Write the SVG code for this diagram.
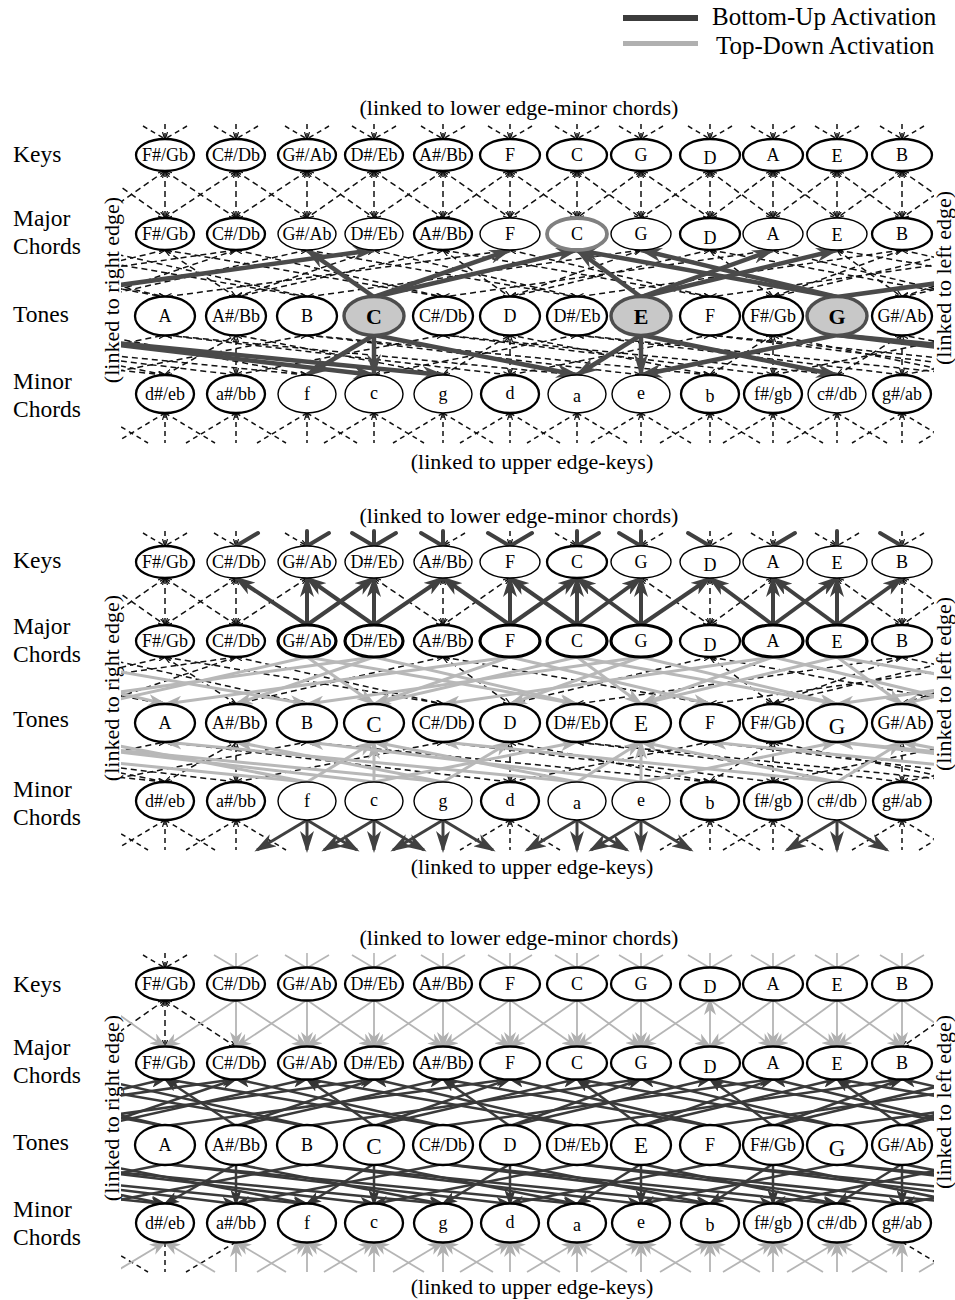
<svg xmlns="http://www.w3.org/2000/svg" width="955" height="1300" viewBox="0 0 955 1300">
<style>
text{font-family:"Liberation Serif","Times New Roman",serif;fill:#000}
.row{font-size:23.5px}
.cap{font-size:22px;text-anchor:middle}
.side{font-size:22px;text-anchor:middle}
.leg{font-size:25px;font-family:"Liberation Serif","Times New Roman",serif}
.n ellipse{fill:#fff;stroke:#000;stroke-width:2.3}
.n text{font-size:18px;text-anchor:middle}
.n.thin ellipse{stroke-width:1.4}
.n.thick ellipse{stroke-width:3.2}
.n.ring ellipse{stroke:#808080;stroke-width:3.8}
.n.hot ellipse{fill:#c8c8c8;stroke:#4d4d4d;stroke-width:3.4}
.n.hot text{font-size:22px;font-weight:bold}
.n.big text{font-size:23px}
line{fill:none}
.d{stroke:#111;stroke-width:1.5;stroke-dasharray:6 4;marker-start:url(#sm);marker-end:url(#sm)}
.de{stroke:#111;stroke-width:1.5;stroke-dasharray:5 4;marker-end:url(#sm)}
.ds{stroke:#111;stroke-width:1.5;stroke-dasharray:5 4;marker-start:url(#sm)}
.nm{marker-start:none;marker-end:none}
.b1{stroke:#4a4a4a;stroke-width:4.5;marker-start:url(#hb)}
.b2s{stroke:#404040;stroke-width:4;marker-start:url(#hb2)}
.b2e{stroke:#404040;stroke-width:3;marker-end:url(#hb2)}
.b2n{stroke:#404040;stroke-width:4;stroke-linecap:round}
.ge{stroke:#b8b8b8;stroke-width:3;marker-end:url(#hg)}
.g3e{stroke:#b5b5b5;stroke-width:1.8;marker-end:url(#hg3)}
.g3s{stroke:#b5b5b5;stroke-width:1.8;marker-start:url(#hg3)}
.g3n{stroke:#b5b5b5;stroke-width:1.6}
.k3{stroke:#3a3a3a;stroke-width:2.5;marker-start:url(#hk)}
</style>
<defs>
<marker id="sm" viewBox="0 0 8 6" refX="7" refY="3" markerWidth="8" markerHeight="6" markerUnits="userSpaceOnUse" orient="auto-start-reverse"><path d="M0,0.5 L8,3 L0,5.5" fill="none" stroke="#111" stroke-width="1.2"/></marker>
<marker id="hb" viewBox="0 0 24 14" refX="21" refY="7" markerWidth="24" markerHeight="14" markerUnits="userSpaceOnUse" orient="auto-start-reverse"><path d="M0,0 L24,7 L0,14 L7,7 z" fill="#4a4a4a"/></marker>
<marker id="hb2" viewBox="0 0 22 14" refX="19" refY="7" markerWidth="22" markerHeight="14" markerUnits="userSpaceOnUse" orient="auto-start-reverse"><path d="M0,0 L22,7 L0,14 L6,7 z" fill="#404040"/></marker>
<marker id="hg" viewBox="0 0 20 12" refX="17" refY="6" markerWidth="20" markerHeight="12" markerUnits="userSpaceOnUse" orient="auto-start-reverse"><path d="M0,0 L20,6 L0,12 L5,6 z" fill="#b0b0b0"/></marker>
<marker id="hg3" viewBox="0 0 18 12" refX="15" refY="6" markerWidth="18" markerHeight="12" markerUnits="userSpaceOnUse" orient="auto-start-reverse"><path d="M0,0 L18,6 L0,12 L5,6 z" fill="#b0b0b0"/></marker>
<marker id="hk" viewBox="0 0 17 11" refX="14" refY="5.5" markerWidth="17" markerHeight="11" markerUnits="userSpaceOnUse" orient="auto-start-reverse"><path d="M0,0 L17,5.5 L0,11 L4,5.5 z" fill="#353535"/></marker>
<clipPath id="clip"><rect x="121" y="0" width="813" height="500"/></clipPath>
<!-- stubs above a key (wrapped links from minor chords) -->
<line id="tsl" x1="-22" y1="-13" x2="0" y2="0"/>
<line id="tsv" x1="0" y1="-15" x2="0" y2="0"/>
<line id="tsr" x1="22" y1="-13" x2="0" y2="0"/>
<g id="ts3"><use href="#tsl"/><use href="#tsv"/><use href="#tsr"/></g>
<g id="ts3m"><use href="#tsl" class="nm"/><use href="#tsv"/><use href="#tsr" class="nm"/></g>
<!-- stubs below a minor chord (wrapped links to keys) -->
<line id="bsl" x1="0" y1="0" x2="-50" y2="30"/>
<line id="bsv" x1="0" y1="0" x2="0" y2="30"/>
<line id="bsr" x1="0" y1="0" x2="50" y2="30"/>
<g id="bs3"><use href="#bsl"/><use href="#bsv"/><use href="#bsr"/></g>
<g id="bs3m"><use href="#bsl" class="nm"/><use href="#bsv"/><use href="#bsr" class="nm"/></g>
</defs>

<g id="legend">
<rect x="623" y="15" width="75" height="6" fill="#3c3c3c"/>
<text class="leg" x="712" y="25">Bottom-Up Activation</text>
<rect x="623" y="41" width="75" height="5" fill="#b0b0b0"/>
<text class="leg" x="716" y="54">Top-Down Activation</text>
</g>

<!-- ===================== panel 1 ===================== -->
<g id="panel1">
<text class="cap" x="519" y="115">(linked to lower edge-minor chords)</text>
<text class="cap" x="532" y="469">(linked to upper edge-keys)</text>
<text class="row" x="13" y="162">Keys</text>
<text class="row" x="13" y="226">Major</text>
<text class="row" x="13" y="254">Chords</text>
<text class="row" x="13" y="322">Tones</text>
<text class="row" x="13" y="389">Minor</text>
<text class="row" x="13" y="417">Chords</text>
<text class="side" transform="translate(119,290) rotate(-90)">(linked to right edge)</text>
<text class="side" transform="translate(951,278) rotate(-90)">(linked to left edge)</text>
<g id="p1-links" clip-path="url(#clip)">
<g class="d">
<line x1="165" y1="171" x2="165" y2="218"/><line x1="236" y1="171" x2="236" y2="218"/><line x1="307" y1="171" x2="307" y2="218"/><line x1="374" y1="171" x2="374" y2="218"/><line x1="443" y1="171" x2="443" y2="218"/><line x1="510" y1="171" x2="510" y2="218"/><line x1="577" y1="171" x2="577" y2="218"/><line x1="641" y1="171" x2="641" y2="218"/><line x1="710" y1="171" x2="710" y2="218"/><line x1="773" y1="171" x2="773" y2="218"/><line x1="837" y1="171" x2="837" y2="218"/><line x1="902" y1="171" x2="902" y2="218"/>
<line x1="98" y1="171" x2="165" y2="218"/><line x1="165" y1="171" x2="236" y2="218"/><line x1="236" y1="171" x2="307" y2="218"/><line x1="307" y1="171" x2="374" y2="218"/><line x1="374" y1="171" x2="443" y2="218"/><line x1="443" y1="171" x2="510" y2="218"/><line x1="510" y1="171" x2="577" y2="218"/><line x1="577" y1="171" x2="641" y2="218"/><line x1="641" y1="171" x2="710" y2="218"/><line x1="710" y1="171" x2="773" y2="218"/><line x1="773" y1="171" x2="837" y2="218"/><line x1="837" y1="171" x2="902" y2="218"/><line x1="902" y1="171" x2="969" y2="218"/>
<line x1="165" y1="171" x2="98" y2="218"/><line x1="236" y1="171" x2="165" y2="218"/><line x1="307" y1="171" x2="236" y2="218"/><line x1="374" y1="171" x2="307" y2="218"/><line x1="443" y1="171" x2="374" y2="218"/><line x1="510" y1="171" x2="443" y2="218"/><line x1="577" y1="171" x2="510" y2="218"/><line x1="641" y1="171" x2="577" y2="218"/><line x1="710" y1="171" x2="641" y2="218"/><line x1="773" y1="171" x2="710" y2="218"/><line x1="837" y1="171" x2="773" y2="218"/><line x1="902" y1="171" x2="837" y2="218"/><line x1="969" y1="171" x2="902" y2="218"/>
<line x1="165" y1="250" x2="-31" y2="297"/><line x1="165" y1="250" x2="236" y2="297"/><line x1="165" y1="250" x2="443" y2="297"/>
<line x1="236" y1="250" x2="443" y2="297"/><line x1="236" y1="250" x2="-94" y2="297"/><line x1="236" y1="250" x2="98" y2="297"/>
<line x1="307" y1="250" x2="98" y2="297"/><line x1="307" y1="250" x2="577" y2="297"/>
<line x1="374" y1="250" x2="577" y2="297"/><line x1="374" y1="250" x2="236" y2="297"/>
<line x1="443" y1="250" x2="236" y2="297"/><line x1="443" y1="250" x2="510" y2="297"/><line x1="443" y1="250" x2="710" y2="297"/>
<line x1="510" y1="250" x2="710" y2="297"/><line x1="510" y1="250" x2="165" y2="297"/>
<line x1="641" y1="250" x2="307" y2="297"/><line x1="641" y1="250" x2="510" y2="297"/>
<line x1="710" y1="250" x2="510" y2="297"/><line x1="710" y1="250" x2="773" y2="297"/><line x1="710" y1="250" x2="969" y2="297"/>
<line x1="773" y1="250" x2="969" y2="297"/><line x1="773" y1="250" x2="443" y2="297"/>
<line x1="837" y1="250" x2="902" y2="297"/><line x1="837" y1="250" x2="1111" y2="297"/>
<line x1="902" y1="250" x2="1111" y2="297"/><line x1="902" y1="250" x2="577" y2="297"/><line x1="902" y1="250" x2="773" y2="297"/>
<line x1="969" y1="250" x2="773" y2="297"/><line x1="1040" y1="250" x2="710" y2="297"/><line x1="1040" y1="250" x2="902" y2="297"/><line x1="1111" y1="250" x2="902" y2="297"/><line x1="-94" y1="250" x2="165" y2="297"/><line x1="-31" y1="250" x2="165" y2="297"/><line x1="33" y1="250" x2="307" y2="297"/><line x1="98" y1="250" x2="307" y2="297"/>
<line x1="165" y1="375" x2="-227" y2="335"/><line x1="165" y1="375" x2="-31" y2="335"/><line x1="165" y1="375" x2="236" y2="335"/>
<line x1="236" y1="375" x2="236" y2="335"/><line x1="236" y1="375" x2="443" y2="335"/><line x1="236" y1="375" x2="-94" y2="335"/>
<line x1="307" y1="375" x2="-94" y2="335"/><line x1="307" y1="375" x2="98" y2="335"/>
<line x1="374" y1="375" x2="577" y2="335"/>
<line x1="443" y1="375" x2="236" y2="335"/><line x1="443" y1="375" x2="510" y2="335"/>
<line x1="510" y1="375" x2="510" y2="335"/><line x1="510" y1="375" x2="710" y2="335"/><line x1="510" y1="375" x2="165" y2="335"/>
<line x1="577" y1="375" x2="165" y2="335"/>
<line x1="641" y1="375" x2="307" y2="335"/>
<line x1="710" y1="375" x2="307" y2="335"/><line x1="710" y1="375" x2="510" y2="335"/><line x1="710" y1="375" x2="773" y2="335"/>
<line x1="773" y1="375" x2="773" y2="335"/><line x1="773" y1="375" x2="969" y2="335"/><line x1="773" y1="375" x2="443" y2="335"/>
<line x1="837" y1="375" x2="443" y2="335"/><line x1="837" y1="375" x2="902" y2="335"/>
<line x1="902" y1="375" x2="902" y2="335"/><line x1="902" y1="375" x2="1111" y2="335"/><line x1="902" y1="375" x2="577" y2="335"/>
<line x1="969" y1="375" x2="577" y2="335"/><line x1="969" y1="375" x2="773" y2="335"/><line x1="1040" y1="375" x2="710" y2="335"/><line x1="1111" y1="375" x2="710" y2="335"/><line x1="1111" y1="375" x2="902" y2="335"/><line x1="-31" y1="375" x2="165" y2="335"/><line x1="98" y1="375" x2="307" y2="335"/>
</g>
<g class="de">
<use href="#ts3m" x="165" y="139"/><use href="#ts3m" x="236" y="139"/><use href="#ts3m" x="307" y="139"/><use href="#ts3m" x="374" y="139"/><use href="#ts3m" x="443" y="139"/><use href="#ts3m" x="510" y="139"/><use href="#ts3m" x="577" y="139"/><use href="#ts3m" x="641" y="139"/><use href="#ts3m" x="710" y="139"/><use href="#ts3m" x="773" y="139"/><use href="#ts3m" x="837" y="139"/><use href="#ts3m" x="902" y="139"/>
</g>
<g class="ds">
<use href="#bsr" x="98" y="413" class="nm"/><use href="#bs3m" x="165" y="413"/><use href="#bs3m" x="236" y="413"/><use href="#bs3m" x="307" y="413"/><use href="#bs3m" x="374" y="413"/><use href="#bs3m" x="443" y="413"/><use href="#bs3m" x="510" y="413"/><use href="#bs3m" x="577" y="413"/><use href="#bs3m" x="641" y="413"/><use href="#bs3m" x="710" y="413"/><use href="#bs3m" x="773" y="413"/><use href="#bs3m" x="837" y="413"/><use href="#bs3m" x="902" y="413"/><use href="#bsl" x="969" y="413" class="nm"/>
</g>
<g class="b1">
<line x1="307" y1="250" x2="374" y2="297"/><line x1="510" y1="250" x2="374" y2="297"/><line x1="577" y1="250" x2="374" y2="297"/><line x1="577" y1="250" x2="641" y2="297"/><line x1="577" y1="250" x2="837" y2="297"/><line x1="374" y1="250" x2="33" y2="297"/><line x1="1178" y1="250" x2="837" y2="297"/><line x1="641" y1="250" x2="837" y2="297"/><line x1="773" y1="250" x2="641" y2="297"/><line x1="837" y1="250" x2="641" y2="297"/>
<line x1="307" y1="375" x2="374" y2="335"/><line x1="374" y1="375" x2="374" y2="335"/><line x1="374" y1="375" x2="33" y2="335"/><line x1="1178" y1="375" x2="837" y2="335"/><line x1="443" y1="375" x2="33" y2="335"/><line x1="1247" y1="375" x2="837" y2="335"/><line x1="577" y1="375" x2="374" y2="335"/><line x1="577" y1="375" x2="641" y2="335"/><line x1="641" y1="375" x2="641" y2="335"/><line x1="641" y1="375" x2="837" y2="335"/><line x1="837" y1="375" x2="641" y2="335"/>
</g>
</g>
<g id="p1-key-FsGb" class="n"><ellipse cx="165" cy="155" rx="29" ry="16"/><text x="165" y="161">F#/Gb</text></g>
<g id="p1-key-CsDb" class="n"><ellipse cx="236" cy="155" rx="29" ry="16"/><text x="236" y="161">C#/Db</text></g>
<g id="p1-key-GsAb" class="n"><ellipse cx="307" cy="155" rx="29" ry="16"/><text x="307" y="161">G#/Ab</text></g>
<g id="p1-key-DsEb" class="n"><ellipse cx="374" cy="155" rx="29" ry="16"/><text x="374" y="161">D#/Eb</text></g>
<g id="p1-key-AsBb" class="n"><ellipse cx="443" cy="155" rx="29" ry="16"/><text x="443" y="161">A#/Bb</text></g>
<g id="p1-key-F" class="n"><ellipse cx="510" cy="155" rx="30" ry="16"/><text x="510" y="161">F</text></g>
<g id="p1-key-C" class="n"><ellipse cx="577" cy="155" rx="30" ry="16"/><text x="577" y="161">C</text></g>
<g id="p1-key-G" class="n"><ellipse cx="641" cy="155" rx="30" ry="16"/><text x="641" y="161">G</text></g>
<g id="p1-key-D" class="n"><ellipse cx="710" cy="155" rx="30" ry="16"/><text x="710" y="164">D</text></g>
<g id="p1-key-A" class="n"><ellipse cx="773" cy="155" rx="30" ry="16"/><text x="773" y="161">A</text></g>
<g id="p1-key-E" class="n"><ellipse cx="837" cy="155" rx="30" ry="16"/><text x="837" y="162">E</text></g>
<g id="p1-key-B" class="n"><ellipse cx="902" cy="155" rx="30" ry="16"/><text x="902" y="161">B</text></g>
<g id="p1-maj-FsGb" class="n"><ellipse cx="165" cy="234" rx="29" ry="16"/><text x="165" y="240">F#/Gb</text></g>
<g id="p1-maj-CsDb" class="n"><ellipse cx="236" cy="234" rx="29" ry="16"/><text x="236" y="240">C#/Db</text></g>
<g id="p1-maj-GsAb" class="n thin"><ellipse cx="307" cy="234" rx="29" ry="16"/><text x="307" y="240">G#/Ab</text></g>
<g id="p1-maj-DsEb" class="n thin"><ellipse cx="374" cy="234" rx="29" ry="16"/><text x="374" y="240">D#/Eb</text></g>
<g id="p1-maj-AsBb" class="n"><ellipse cx="443" cy="234" rx="29" ry="16"/><text x="443" y="240">A#/Bb</text></g>
<g id="p1-maj-F" class="n thin"><ellipse cx="510" cy="234" rx="30" ry="16"/><text x="510" y="240">F</text></g>
<g id="p1-maj-C" class="n ring"><ellipse cx="577" cy="234" rx="30" ry="16"/><text x="577" y="240">C</text></g>
<g id="p1-maj-G" class="n thin"><ellipse cx="641" cy="234" rx="30" ry="16"/><text x="641" y="240">G</text></g>
<g id="p1-maj-D" class="n"><ellipse cx="710" cy="234" rx="30" ry="16"/><text x="710" y="244">D</text></g>
<g id="p1-maj-A" class="n thin"><ellipse cx="773" cy="234" rx="30" ry="16"/><text x="773" y="240">A</text></g>
<g id="p1-maj-E" class="n thin"><ellipse cx="837" cy="234" rx="30" ry="16"/><text x="837" y="241">E</text></g>
<g id="p1-maj-B" class="n"><ellipse cx="902" cy="234" rx="30" ry="16"/><text x="902" y="240">B</text></g>
<g id="p1-tone-A" class="n"><ellipse cx="165" cy="316" rx="30" ry="19.5"/><text x="165" y="322">A</text></g>
<g id="p1-tone-AsBb" class="n"><ellipse cx="236" cy="316" rx="30" ry="19.5"/><text x="236" y="322">A#/Bb</text></g>
<g id="p1-tone-B" class="n"><ellipse cx="307" cy="316" rx="30" ry="19.5"/><text x="307" y="322">B</text></g>
<g id="p1-tone-C" class="n hot"><ellipse cx="374" cy="316" rx="30" ry="19.5"/><text x="374" y="324">C</text></g>
<g id="p1-tone-CsDb" class="n"><ellipse cx="443" cy="316" rx="30" ry="19.5"/><text x="443" y="322">C#/Db</text></g>
<g id="p1-tone-D" class="n"><ellipse cx="510" cy="316" rx="30" ry="19.5"/><text x="510" y="322">D</text></g>
<g id="p1-tone-DsEb" class="n"><ellipse cx="577" cy="316" rx="30" ry="19.5"/><text x="577" y="322">D#/Eb</text></g>
<g id="p1-tone-E" class="n hot"><ellipse cx="641" cy="316" rx="30" ry="19.5"/><text x="641" y="324">E</text></g>
<g id="p1-tone-F" class="n"><ellipse cx="710" cy="316" rx="30" ry="19.5"/><text x="710" y="322">F</text></g>
<g id="p1-tone-FsGb" class="n"><ellipse cx="773" cy="316" rx="30" ry="19.5"/><text x="773" y="322">F#/Gb</text></g>
<g id="p1-tone-G" class="n hot"><ellipse cx="837" cy="316" rx="30" ry="19.5"/><text x="837" y="324">G</text></g>
<g id="p1-tone-GsAb" class="n"><ellipse cx="902" cy="316" rx="30" ry="19.5"/><text x="902" y="322">G#/Ab</text></g>
<g id="p1-min-dseb" class="n"><ellipse cx="165" cy="394" rx="29" ry="19"/><text x="165" y="400">d#/eb</text></g>
<g id="p1-min-asbb" class="n"><ellipse cx="236" cy="394" rx="29" ry="19"/><text x="236" y="400">a#/bb</text></g>
<g id="p1-min-f" class="n thin"><ellipse cx="307" cy="394" rx="29" ry="19"/><text x="307" y="400">f</text></g>
<g id="p1-min-c" class="n thin"><ellipse cx="374" cy="394" rx="29" ry="19"/><text x="374" y="399">c</text></g>
<g id="p1-min-g" class="n thin"><ellipse cx="443" cy="394" rx="29" ry="19"/><text x="443" y="400">g</text></g>
<g id="p1-min-d" class="n"><ellipse cx="510" cy="394" rx="29" ry="19"/><text x="510" y="399">d</text></g>
<g id="p1-min-a" class="n thin"><ellipse cx="577" cy="394" rx="29" ry="19"/><text x="577" y="402">a</text></g>
<g id="p1-min-e" class="n thin"><ellipse cx="641" cy="394" rx="29" ry="19"/><text x="641" y="399">e</text></g>
<g id="p1-min-b" class="n"><ellipse cx="710" cy="394" rx="29" ry="19"/><text x="710" y="402">b</text></g>
<g id="p1-min-fsgb" class="n"><ellipse cx="773" cy="394" rx="29" ry="19"/><text x="773" y="400">f#/gb</text></g>
<g id="p1-min-csdb" class="n thin"><ellipse cx="837" cy="394" rx="29" ry="19"/><text x="837" y="400">c#/db</text></g>
<g id="p1-min-gsab" class="n"><ellipse cx="902" cy="394" rx="29" ry="19"/><text x="902" y="400">g#/ab</text></g>
</g>

<!-- ===================== panel 2 ===================== -->
<g id="panel2" transform="translate(0,407)">
<text class="cap" x="519" y="116">(linked to lower edge-minor chords)</text>
<text class="cap" x="532" y="467">(linked to upper edge-keys)</text>
<text class="row" x="13" y="161">Keys</text>
<text class="row" x="13" y="227">Major</text>
<text class="row" x="13" y="255">Chords</text>
<text class="row" x="13" y="320">Tones</text>
<text class="row" x="13" y="390">Minor</text>
<text class="row" x="13" y="418">Chords</text>
<text class="side" transform="translate(119,281) rotate(-90)">(linked to right edge)</text>
<text class="side" transform="translate(951,277) rotate(-90)">(linked to left edge)</text>
<g id="p2-links" clip-path="url(#clip)">
<g class="d">
<line x1="165" y1="171" x2="165" y2="218"/><line x1="236" y1="171" x2="236" y2="218"/><line x1="443" y1="171" x2="443" y2="218"/><line x1="710" y1="171" x2="710" y2="218"/><line x1="902" y1="171" x2="902" y2="218"/>
<line x1="98" y1="171" x2="165" y2="218"/><line x1="165" y1="171" x2="236" y2="218"/><line x1="374" y1="171" x2="443" y2="218"/><line x1="641" y1="171" x2="710" y2="218"/><line x1="837" y1="171" x2="902" y2="218"/><line x1="902" y1="171" x2="969" y2="218"/>
<line x1="165" y1="171" x2="98" y2="218"/><line x1="236" y1="171" x2="165" y2="218"/><line x1="307" y1="171" x2="236" y2="218"/><line x1="510" y1="171" x2="443" y2="218"/><line x1="773" y1="171" x2="710" y2="218"/><line x1="969" y1="171" x2="902" y2="218"/>
<line x1="165" y1="250" x2="-31" y2="297"/><line x1="165" y1="250" x2="236" y2="297"/><line x1="165" y1="250" x2="443" y2="297"/>
<line x1="236" y1="250" x2="443" y2="297"/><line x1="236" y1="250" x2="-94" y2="297"/><line x1="236" y1="250" x2="98" y2="297"/>
<line x1="443" y1="250" x2="236" y2="297"/><line x1="443" y1="250" x2="510" y2="297"/><line x1="443" y1="250" x2="710" y2="297"/>
<line x1="710" y1="250" x2="510" y2="297"/><line x1="710" y1="250" x2="773" y2="297"/><line x1="710" y1="250" x2="969" y2="297"/>
<line x1="902" y1="250" x2="1111" y2="297"/><line x1="902" y1="250" x2="577" y2="297"/><line x1="902" y1="250" x2="773" y2="297"/>
<line x1="969" y1="250" x2="773" y2="297"/><line x1="1040" y1="250" x2="710" y2="297"/><line x1="1040" y1="250" x2="902" y2="297"/><line x1="-94" y1="250" x2="165" y2="297"/><line x1="98" y1="250" x2="307" y2="297"/>
<line x1="165" y1="375" x2="-227" y2="335"/><line x1="165" y1="375" x2="-31" y2="335"/><line x1="165" y1="375" x2="236" y2="335"/>
<line x1="236" y1="375" x2="236" y2="335"/><line x1="236" y1="375" x2="443" y2="335"/><line x1="236" y1="375" x2="-94" y2="335"/>
<line x1="510" y1="375" x2="510" y2="335"/><line x1="510" y1="375" x2="710" y2="335"/><line x1="510" y1="375" x2="165" y2="335"/>
<line x1="710" y1="375" x2="307" y2="335"/><line x1="710" y1="375" x2="510" y2="335"/><line x1="710" y1="375" x2="773" y2="335"/>
<line x1="773" y1="375" x2="773" y2="335"/><line x1="773" y1="375" x2="969" y2="335"/><line x1="773" y1="375" x2="443" y2="335"/>
<line x1="902" y1="375" x2="902" y2="335"/><line x1="902" y1="375" x2="1111" y2="335"/><line x1="902" y1="375" x2="577" y2="335"/>
<line x1="969" y1="375" x2="577" y2="335"/><line x1="969" y1="375" x2="773" y2="335"/><line x1="1040" y1="375" x2="710" y2="335"/><line x1="-31" y1="375" x2="165" y2="335"/><line x1="98" y1="375" x2="307" y2="335"/>
</g>
<g class="ge">
<line x1="307" y1="250" x2="98" y2="297"/><line x1="307" y1="250" x2="374" y2="297"/><line x1="307" y1="250" x2="577" y2="297"/>
<line x1="374" y1="250" x2="577" y2="297"/><line x1="374" y1="250" x2="33" y2="297"/><line x1="374" y1="250" x2="236" y2="297"/>
<line x1="510" y1="250" x2="710" y2="297"/><line x1="510" y1="250" x2="165" y2="297"/><line x1="510" y1="250" x2="374" y2="297"/>
<line x1="577" y1="250" x2="374" y2="297"/><line x1="577" y1="250" x2="641" y2="297"/><line x1="577" y1="250" x2="837" y2="297"/>
<line x1="641" y1="250" x2="837" y2="297"/><line x1="641" y1="250" x2="307" y2="297"/><line x1="641" y1="250" x2="510" y2="297"/>
<line x1="773" y1="250" x2="969" y2="297"/><line x1="773" y1="250" x2="443" y2="297"/><line x1="773" y1="250" x2="641" y2="297"/>
<line x1="837" y1="250" x2="641" y2="297"/><line x1="837" y1="250" x2="902" y2="297"/><line x1="837" y1="250" x2="1111" y2="297"/>
<line x1="1111" y1="250" x2="902" y2="297"/><line x1="1178" y1="250" x2="837" y2="297"/><line x1="-31" y1="250" x2="165" y2="297"/><line x1="33" y1="250" x2="307" y2="297"/>
<line x1="307" y1="375" x2="-94" y2="335"/><line x1="307" y1="375" x2="98" y2="335"/><line x1="307" y1="375" x2="374" y2="335"/>
<line x1="374" y1="375" x2="374" y2="335"/><line x1="374" y1="375" x2="577" y2="335"/><line x1="374" y1="375" x2="33" y2="335"/>
<line x1="443" y1="375" x2="33" y2="335"/><line x1="443" y1="375" x2="236" y2="335"/><line x1="443" y1="375" x2="510" y2="335"/>
<line x1="577" y1="375" x2="165" y2="335"/><line x1="577" y1="375" x2="374" y2="335"/><line x1="577" y1="375" x2="641" y2="335"/>
<line x1="641" y1="375" x2="641" y2="335"/><line x1="641" y1="375" x2="837" y2="335"/><line x1="641" y1="375" x2="307" y2="335"/>
<line x1="837" y1="375" x2="443" y2="335"/><line x1="837" y1="375" x2="641" y2="335"/><line x1="837" y1="375" x2="902" y2="335"/>
<line x1="1111" y1="375" x2="710" y2="335"/><line x1="1111" y1="375" x2="902" y2="335"/><line x1="1178" y1="375" x2="837" y2="335"/><line x1="1247" y1="375" x2="837" y2="335"/>
</g>
<g class="b2s">
<line x1="307" y1="171" x2="307" y2="218"/><line x1="374" y1="171" x2="374" y2="218"/><line x1="510" y1="171" x2="510" y2="218"/><line x1="577" y1="171" x2="577" y2="218"/><line x1="641" y1="171" x2="641" y2="218"/><line x1="773" y1="171" x2="773" y2="218"/><line x1="837" y1="171" x2="837" y2="218"/>
<line x1="236" y1="171" x2="307" y2="218"/><line x1="307" y1="171" x2="374" y2="218"/><line x1="443" y1="171" x2="510" y2="218"/><line x1="510" y1="171" x2="577" y2="218"/><line x1="577" y1="171" x2="641" y2="218"/><line x1="710" y1="171" x2="773" y2="218"/><line x1="773" y1="171" x2="837" y2="218"/>
<line x1="374" y1="171" x2="307" y2="218"/><line x1="443" y1="171" x2="374" y2="218"/><line x1="577" y1="171" x2="510" y2="218"/><line x1="641" y1="171" x2="577" y2="218"/><line x1="710" y1="171" x2="641" y2="218"/><line x1="837" y1="171" x2="773" y2="218"/><line x1="902" y1="171" x2="837" y2="218"/>
</g>
<g class="de">
<use href="#ts3m" x="165" y="139"/>
<use href="#tsl" x="236" y="139" class="nm"/><use href="#tsv" x="236" y="139"/>
<use href="#tsl" x="307" y="139"/>
<use href="#tsr" x="443" y="139"/>
<use href="#tsv" x="510" y="139"/>
<use href="#tsl" x="577" y="139"/>
<use href="#tsr" x="641" y="139"/>
<use href="#tsv" x="710" y="139"/><use href="#tsr" x="710" y="139" class="nm"/>
<use href="#tsl" x="773" y="139" class="nm"/><use href="#tsv" x="773" y="139"/>
<use href="#tsl" x="837" y="139"/><use href="#tsr" x="837" y="139" class="nm"/>
<use href="#tsv" x="902" y="139"/><use href="#tsr" x="902" y="139" class="nm"/>
</g>
<g class="b2n">
<use href="#tsr" x="236" y="139"/>
<use href="#tsv" x="307" y="139"/><use href="#tsr" x="307" y="139"/>
<use href="#ts3" x="374" y="139"/>
<use href="#tsl" x="443" y="139"/><use href="#tsv" x="443" y="139"/>
<use href="#tsl" x="510" y="139"/><use href="#tsr" x="510" y="139"/>
<use href="#tsv" x="577" y="139"/><use href="#tsr" x="577" y="139"/>
<use href="#tsl" x="641" y="139"/><use href="#tsv" x="641" y="139"/>
<use href="#tsl" x="710" y="139"/>
<use href="#tsr" x="773" y="139"/>
<use href="#tsv" x="837" y="139"/>
<use href="#tsl" x="902" y="139"/>
</g>
<g class="ds">
<use href="#bsr" x="98" y="413" class="nm"/><use href="#bs3m" x="165" y="413"/><use href="#bs3m" x="236" y="413"/><use href="#bs3m" x="510" y="413"/><use href="#bs3m" x="710" y="413"/><use href="#bs3m" x="773" y="413"/><use href="#bs3m" x="902" y="413"/><use href="#bsl" x="969" y="413" class="nm"/>
</g>
<g class="b2e">
<use href="#bs3" x="307" y="413"/><use href="#bs3" x="374" y="413"/><use href="#bs3" x="443" y="413"/><use href="#bs3" x="577" y="413"/><use href="#bs3" x="641" y="413"/><use href="#bs3" x="837" y="413"/>
</g>
</g>
<g id="p2-key-FsGb" class="n"><ellipse cx="165" cy="155" rx="29" ry="16"/><text x="165" y="161">F#/Gb</text></g>
<g id="p2-key-CsDb" class="n thin"><ellipse cx="236" cy="155" rx="29" ry="16"/><text x="236" y="161">C#/Db</text></g>
<g id="p2-key-GsAb" class="n thin"><ellipse cx="307" cy="155" rx="29" ry="16"/><text x="307" y="161">G#/Ab</text></g>
<g id="p2-key-DsEb" class="n thin"><ellipse cx="374" cy="155" rx="29" ry="16"/><text x="374" y="161">D#/Eb</text></g>
<g id="p2-key-AsBb" class="n thin"><ellipse cx="443" cy="155" rx="29" ry="16"/><text x="443" y="161">A#/Bb</text></g>
<g id="p2-key-F" class="n thin"><ellipse cx="510" cy="155" rx="30" ry="16"/><text x="510" y="161">F</text></g>
<g id="p2-key-C" class="n"><ellipse cx="577" cy="155" rx="30" ry="16"/><text x="577" y="161">C</text></g>
<g id="p2-key-G" class="n thin"><ellipse cx="641" cy="155" rx="30" ry="16"/><text x="641" y="161">G</text></g>
<g id="p2-key-D" class="n thin"><ellipse cx="710" cy="155" rx="30" ry="16"/><text x="710" y="164">D</text></g>
<g id="p2-key-A" class="n thin"><ellipse cx="773" cy="155" rx="30" ry="16"/><text x="773" y="161">A</text></g>
<g id="p2-key-E" class="n thin"><ellipse cx="837" cy="155" rx="30" ry="16"/><text x="837" y="162">E</text></g>
<g id="p2-key-B" class="n thin"><ellipse cx="902" cy="155" rx="30" ry="16"/><text x="902" y="161">B</text></g>
<g id="p2-maj-FsGb" class="n"><ellipse cx="165" cy="234" rx="29" ry="16"/><text x="165" y="240">F#/Gb</text></g>
<g id="p2-maj-CsDb" class="n"><ellipse cx="236" cy="234" rx="29" ry="16"/><text x="236" y="240">C#/Db</text></g>
<g id="p2-maj-GsAb" class="n thick"><ellipse cx="307" cy="234" rx="29" ry="16"/><text x="307" y="240">G#/Ab</text></g>
<g id="p2-maj-DsEb" class="n thick"><ellipse cx="374" cy="234" rx="29" ry="16"/><text x="374" y="240">D#/Eb</text></g>
<g id="p2-maj-AsBb" class="n"><ellipse cx="443" cy="234" rx="29" ry="16"/><text x="443" y="240">A#/Bb</text></g>
<g id="p2-maj-F" class="n thick"><ellipse cx="510" cy="234" rx="30" ry="16"/><text x="510" y="240">F</text></g>
<g id="p2-maj-C" class="n thick"><ellipse cx="577" cy="234" rx="30" ry="16"/><text x="577" y="240">C</text></g>
<g id="p2-maj-G" class="n thick"><ellipse cx="641" cy="234" rx="30" ry="16"/><text x="641" y="240">G</text></g>
<g id="p2-maj-D" class="n"><ellipse cx="710" cy="234" rx="30" ry="16"/><text x="710" y="244">D</text></g>
<g id="p2-maj-A" class="n thick"><ellipse cx="773" cy="234" rx="30" ry="16"/><text x="773" y="240">A</text></g>
<g id="p2-maj-E" class="n thick"><ellipse cx="837" cy="234" rx="30" ry="16"/><text x="837" y="241">E</text></g>
<g id="p2-maj-B" class="n"><ellipse cx="902" cy="234" rx="30" ry="16"/><text x="902" y="240">B</text></g>
<g id="p2-tone-A" class="n"><ellipse cx="165" cy="316" rx="30" ry="19"/><text x="165" y="322">A</text></g>
<g id="p2-tone-AsBb" class="n"><ellipse cx="236" cy="316" rx="30" ry="19"/><text x="236" y="322">A#/Bb</text></g>
<g id="p2-tone-B" class="n"><ellipse cx="307" cy="316" rx="30" ry="19"/><text x="307" y="322">B</text></g>
<g id="p2-tone-C" class="n big"><ellipse cx="374" cy="316" rx="30" ry="19"/><text x="374" y="325">C</text></g>
<g id="p2-tone-CsDb" class="n"><ellipse cx="443" cy="316" rx="30" ry="19"/><text x="443" y="322">C#/Db</text></g>
<g id="p2-tone-D" class="n"><ellipse cx="510" cy="316" rx="30" ry="19"/><text x="510" y="322">D</text></g>
<g id="p2-tone-DsEb" class="n"><ellipse cx="577" cy="316" rx="30" ry="19"/><text x="577" y="322">D#/Eb</text></g>
<g id="p2-tone-E" class="n big"><ellipse cx="641" cy="316" rx="30" ry="19"/><text x="641" y="324">E</text></g>
<g id="p2-tone-F" class="n"><ellipse cx="710" cy="316" rx="30" ry="19"/><text x="710" y="322">F</text></g>
<g id="p2-tone-FsGb" class="n"><ellipse cx="773" cy="316" rx="30" ry="19"/><text x="773" y="322">F#/Gb</text></g>
<g id="p2-tone-G" class="n big"><ellipse cx="837" cy="316" rx="30" ry="19"/><text x="837" y="327">G</text></g>
<g id="p2-tone-GsAb" class="n"><ellipse cx="902" cy="316" rx="30" ry="19"/><text x="902" y="322">G#/Ab</text></g>
<g id="p2-min-dseb" class="n"><ellipse cx="165" cy="394" rx="29" ry="19"/><text x="165" y="400">d#/eb</text></g>
<g id="p2-min-asbb" class="n"><ellipse cx="236" cy="394" rx="29" ry="19"/><text x="236" y="400">a#/bb</text></g>
<g id="p2-min-f" class="n thin"><ellipse cx="307" cy="394" rx="29" ry="19"/><text x="307" y="400">f</text></g>
<g id="p2-min-c" class="n thin"><ellipse cx="374" cy="394" rx="29" ry="19"/><text x="374" y="399">c</text></g>
<g id="p2-min-g" class="n thin"><ellipse cx="443" cy="394" rx="29" ry="19"/><text x="443" y="400">g</text></g>
<g id="p2-min-d" class="n"><ellipse cx="510" cy="394" rx="29" ry="19"/><text x="510" y="399">d</text></g>
<g id="p2-min-a" class="n thin"><ellipse cx="577" cy="394" rx="29" ry="19"/><text x="577" y="402">a</text></g>
<g id="p2-min-e" class="n thin"><ellipse cx="641" cy="394" rx="29" ry="19"/><text x="641" y="399">e</text></g>
<g id="p2-min-b" class="n"><ellipse cx="710" cy="394" rx="29" ry="19"/><text x="710" y="402">b</text></g>
<g id="p2-min-fsgb" class="n"><ellipse cx="773" cy="394" rx="29" ry="19"/><text x="773" y="400">f#/gb</text></g>
<g id="p2-min-csdb" class="n thin"><ellipse cx="837" cy="394" rx="29" ry="19"/><text x="837" y="400">c#/db</text></g>
<g id="p2-min-gsab" class="n"><ellipse cx="902" cy="394" rx="29" ry="19"/><text x="902" y="400">g#/ab</text></g>
</g>

<!-- ===================== panel 3 ===================== -->
<g id="panel3" transform="translate(0,829)">
<text class="cap" x="519" y="116">(linked to lower edge-minor chords)</text>
<text class="cap" x="532" y="465">(linked to upper edge-keys)</text>
<text class="row" x="13" y="163">Keys</text>
<text class="row" x="13" y="226">Major</text>
<text class="row" x="13" y="254">Chords</text>
<text class="row" x="13" y="321">Tones</text>
<text class="row" x="13" y="388">Minor</text>
<text class="row" x="13" y="416">Chords</text>
<text class="side" transform="translate(119,279) rotate(-90)">(linked to right edge)</text>
<text class="side" transform="translate(951,273) rotate(-90)">(linked to left edge)</text>
<g id="p3-links" clip-path="url(#clip)">
<g class="d">
<line x1="165" y1="171" x2="165" y2="218"/><line x1="165" y1="171" x2="236" y2="218"/><line x1="165" y1="171" x2="98" y2="218"/><line x1="969" y1="171" x2="902" y2="218"/>
</g>
<g class="g3e">
<line x1="236" y1="171" x2="236" y2="218"/><line x1="307" y1="171" x2="307" y2="218"/><line x1="374" y1="171" x2="374" y2="218"/><line x1="443" y1="171" x2="443" y2="218"/><line x1="510" y1="171" x2="510" y2="218"/><line x1="577" y1="171" x2="577" y2="218"/><line x1="641" y1="171" x2="641" y2="218"/><line x1="773" y1="171" x2="773" y2="218"/><line x1="837" y1="171" x2="837" y2="218"/><line x1="902" y1="171" x2="902" y2="218"/>
<line x1="98" y1="171" x2="165" y2="218"/><line x1="236" y1="171" x2="307" y2="218"/><line x1="307" y1="171" x2="374" y2="218"/><line x1="374" y1="171" x2="443" y2="218"/><line x1="443" y1="171" x2="510" y2="218"/><line x1="510" y1="171" x2="577" y2="218"/><line x1="577" y1="171" x2="641" y2="218"/><line x1="641" y1="171" x2="710" y2="218"/><line x1="710" y1="171" x2="773" y2="218"/><line x1="773" y1="171" x2="837" y2="218"/><line x1="837" y1="171" x2="902" y2="218"/><line x1="902" y1="171" x2="969" y2="218"/>
<line x1="236" y1="171" x2="165" y2="218"/><line x1="307" y1="171" x2="236" y2="218"/><line x1="374" y1="171" x2="307" y2="218"/><line x1="443" y1="171" x2="374" y2="218"/><line x1="510" y1="171" x2="443" y2="218"/><line x1="577" y1="171" x2="510" y2="218"/><line x1="641" y1="171" x2="577" y2="218"/><line x1="710" y1="171" x2="641" y2="218"/><line x1="773" y1="171" x2="710" y2="218"/><line x1="837" y1="171" x2="773" y2="218"/><line x1="902" y1="171" x2="837" y2="218"/>
</g>
<g class="g3s"><line x1="710" y1="171" x2="710" y2="218"/></g>
<g class="k3">
<line x1="165" y1="250" x2="-31" y2="297"/><line x1="165" y1="250" x2="236" y2="297"/><line x1="165" y1="250" x2="443" y2="297"/>
<line x1="236" y1="250" x2="443" y2="297"/><line x1="236" y1="250" x2="-94" y2="297"/><line x1="236" y1="250" x2="98" y2="297"/>
<line x1="307" y1="250" x2="98" y2="297"/><line x1="307" y1="250" x2="374" y2="297"/><line x1="307" y1="250" x2="577" y2="297"/>
<line x1="374" y1="250" x2="577" y2="297"/><line x1="374" y1="250" x2="33" y2="297"/><line x1="374" y1="250" x2="236" y2="297"/>
<line x1="443" y1="250" x2="236" y2="297"/><line x1="443" y1="250" x2="510" y2="297"/><line x1="443" y1="250" x2="710" y2="297"/>
<line x1="510" y1="250" x2="710" y2="297"/><line x1="510" y1="250" x2="165" y2="297"/><line x1="510" y1="250" x2="374" y2="297"/>
<line x1="577" y1="250" x2="374" y2="297"/><line x1="577" y1="250" x2="641" y2="297"/><line x1="577" y1="250" x2="837" y2="297"/>
<line x1="641" y1="250" x2="837" y2="297"/><line x1="641" y1="250" x2="307" y2="297"/><line x1="641" y1="250" x2="510" y2="297"/>
<line x1="710" y1="250" x2="510" y2="297"/><line x1="710" y1="250" x2="773" y2="297"/><line x1="710" y1="250" x2="969" y2="297"/>
<line x1="773" y1="250" x2="969" y2="297"/><line x1="773" y1="250" x2="443" y2="297"/><line x1="773" y1="250" x2="641" y2="297"/>
<line x1="837" y1="250" x2="641" y2="297"/><line x1="837" y1="250" x2="902" y2="297"/><line x1="837" y1="250" x2="1111" y2="297"/>
<line x1="902" y1="250" x2="1111" y2="297"/><line x1="902" y1="250" x2="577" y2="297"/><line x1="902" y1="250" x2="773" y2="297"/>
<line x1="969" y1="250" x2="773" y2="297"/><line x1="1040" y1="250" x2="710" y2="297"/><line x1="1040" y1="250" x2="902" y2="297"/><line x1="1111" y1="250" x2="902" y2="297"/><line x1="1178" y1="250" x2="837" y2="297"/><line x1="-94" y1="250" x2="165" y2="297"/><line x1="-31" y1="250" x2="165" y2="297"/><line x1="33" y1="250" x2="307" y2="297"/><line x1="98" y1="250" x2="307" y2="297"/>
<line x1="165" y1="375" x2="-227" y2="335"/><line x1="165" y1="375" x2="-31" y2="335"/><line x1="165" y1="375" x2="236" y2="335"/>
<line x1="236" y1="375" x2="236" y2="335"/><line x1="236" y1="375" x2="443" y2="335"/><line x1="236" y1="375" x2="-94" y2="335"/>
<line x1="307" y1="375" x2="-94" y2="335"/><line x1="307" y1="375" x2="98" y2="335"/><line x1="307" y1="375" x2="374" y2="335"/>
<line x1="374" y1="375" x2="374" y2="335"/><line x1="374" y1="375" x2="577" y2="335"/><line x1="374" y1="375" x2="33" y2="335"/>
<line x1="443" y1="375" x2="33" y2="335"/><line x1="443" y1="375" x2="236" y2="335"/><line x1="443" y1="375" x2="510" y2="335"/>
<line x1="510" y1="375" x2="510" y2="335"/><line x1="510" y1="375" x2="710" y2="335"/><line x1="510" y1="375" x2="165" y2="335"/>
<line x1="577" y1="375" x2="165" y2="335"/><line x1="577" y1="375" x2="374" y2="335"/><line x1="577" y1="375" x2="641" y2="335"/>
<line x1="641" y1="375" x2="641" y2="335"/><line x1="641" y1="375" x2="837" y2="335"/><line x1="641" y1="375" x2="307" y2="335"/>
<line x1="710" y1="375" x2="307" y2="335"/><line x1="710" y1="375" x2="510" y2="335"/><line x1="710" y1="375" x2="773" y2="335"/>
<line x1="773" y1="375" x2="773" y2="335"/><line x1="773" y1="375" x2="969" y2="335"/><line x1="773" y1="375" x2="443" y2="335"/>
<line x1="837" y1="375" x2="443" y2="335"/><line x1="837" y1="375" x2="641" y2="335"/><line x1="837" y1="375" x2="902" y2="335"/>
<line x1="902" y1="375" x2="902" y2="335"/><line x1="902" y1="375" x2="1111" y2="335"/><line x1="902" y1="375" x2="577" y2="335"/>
<line x1="969" y1="375" x2="577" y2="335"/><line x1="969" y1="375" x2="773" y2="335"/><line x1="1040" y1="375" x2="710" y2="335"/><line x1="1111" y1="375" x2="710" y2="335"/><line x1="1111" y1="375" x2="902" y2="335"/><line x1="1178" y1="375" x2="837" y2="335"/><line x1="1247" y1="375" x2="837" y2="335"/><line x1="-31" y1="375" x2="165" y2="335"/><line x1="98" y1="375" x2="307" y2="335"/>
</g>
<g class="de"><use href="#ts3m" x="165" y="139"/></g>
<g class="g3n">
<use href="#ts3" x="236" y="139"/><use href="#ts3" x="307" y="139"/><use href="#ts3" x="374" y="139"/><use href="#ts3" x="443" y="139"/><use href="#ts3" x="510" y="139"/><use href="#ts3" x="577" y="139"/><use href="#ts3" x="641" y="139"/><use href="#ts3" x="710" y="139"/><use href="#ts3" x="773" y="139"/><use href="#ts3" x="837" y="139"/><use href="#ts3" x="902" y="139"/>
</g>
<g class="ds">
<use href="#bsr" x="98" y="413" class="nm"/><use href="#bsv" x="165" y="413" class="nm"/><use href="#bsl" x="236" y="413" class="nm"/><use href="#bsr" x="902" y="413" class="nm"/>
</g>
<g class="g3s">
<use href="#bsl" x="165" y="413"/><use href="#bsr" x="165" y="413"/>
<use href="#bsv" x="236" y="413"/><use href="#bsr" x="236" y="413"/>
<use href="#bs3" x="307" y="413"/><use href="#bs3" x="374" y="413"/><use href="#bs3" x="443" y="413"/><use href="#bs3" x="510" y="413"/><use href="#bs3" x="577" y="413"/><use href="#bs3" x="641" y="413"/><use href="#bs3" x="710" y="413"/><use href="#bs3" x="773" y="413"/><use href="#bs3" x="837" y="413"/>
<use href="#bsl" x="902" y="413"/><use href="#bsv" x="902" y="413"/><use href="#bsl" x="969" y="413"/>
</g>
</g>
<g id="p3-key-FsGb" class="n"><ellipse cx="165" cy="155" rx="29" ry="16.5"/><text x="165" y="161">F#/Gb</text></g>
<g id="p3-key-CsDb" class="n"><ellipse cx="236" cy="155" rx="29" ry="16.5"/><text x="236" y="161">C#/Db</text></g>
<g id="p3-key-GsAb" class="n"><ellipse cx="307" cy="155" rx="29" ry="16.5"/><text x="307" y="161">G#/Ab</text></g>
<g id="p3-key-DsEb" class="n"><ellipse cx="374" cy="155" rx="29" ry="16.5"/><text x="374" y="161">D#/Eb</text></g>
<g id="p3-key-AsBb" class="n"><ellipse cx="443" cy="155" rx="29" ry="16.5"/><text x="443" y="161">A#/Bb</text></g>
<g id="p3-key-F" class="n"><ellipse cx="510" cy="155" rx="30" ry="16.5"/><text x="510" y="161">F</text></g>
<g id="p3-key-C" class="n"><ellipse cx="577" cy="155" rx="30" ry="16.5"/><text x="577" y="161">C</text></g>
<g id="p3-key-G" class="n"><ellipse cx="641" cy="155" rx="30" ry="16.5"/><text x="641" y="161">G</text></g>
<g id="p3-key-D" class="n"><ellipse cx="710" cy="155" rx="30" ry="16.5"/><text x="710" y="164">D</text></g>
<g id="p3-key-A" class="n"><ellipse cx="773" cy="155" rx="30" ry="16.5"/><text x="773" y="161">A</text></g>
<g id="p3-key-E" class="n"><ellipse cx="837" cy="155" rx="30" ry="16.5"/><text x="837" y="162">E</text></g>
<g id="p3-key-B" class="n"><ellipse cx="902" cy="155" rx="30" ry="16.5"/><text x="902" y="161">B</text></g>
<g id="p3-maj-FsGb" class="n"><ellipse cx="165" cy="234" rx="29" ry="16.5"/><text x="165" y="240">F#/Gb</text></g>
<g id="p3-maj-CsDb" class="n"><ellipse cx="236" cy="234" rx="29" ry="16.5"/><text x="236" y="240">C#/Db</text></g>
<g id="p3-maj-GsAb" class="n"><ellipse cx="307" cy="234" rx="29" ry="16.5"/><text x="307" y="240">G#/Ab</text></g>
<g id="p3-maj-DsEb" class="n"><ellipse cx="374" cy="234" rx="29" ry="16.5"/><text x="374" y="240">D#/Eb</text></g>
<g id="p3-maj-AsBb" class="n"><ellipse cx="443" cy="234" rx="29" ry="16.5"/><text x="443" y="240">A#/Bb</text></g>
<g id="p3-maj-F" class="n"><ellipse cx="510" cy="234" rx="30" ry="16.5"/><text x="510" y="240">F</text></g>
<g id="p3-maj-C" class="n"><ellipse cx="577" cy="234" rx="30" ry="16.5"/><text x="577" y="240">C</text></g>
<g id="p3-maj-G" class="n"><ellipse cx="641" cy="234" rx="30" ry="16.5"/><text x="641" y="240">G</text></g>
<g id="p3-maj-D" class="n"><ellipse cx="710" cy="234" rx="30" ry="16.5"/><text x="710" y="244">D</text></g>
<g id="p3-maj-A" class="n"><ellipse cx="773" cy="234" rx="30" ry="16.5"/><text x="773" y="240">A</text></g>
<g id="p3-maj-E" class="n"><ellipse cx="837" cy="234" rx="30" ry="16.5"/><text x="837" y="241">E</text></g>
<g id="p3-maj-B" class="n"><ellipse cx="902" cy="234" rx="30" ry="16.5"/><text x="902" y="240">B</text></g>
<g id="p3-tone-A" class="n"><ellipse cx="165" cy="316" rx="30" ry="20"/><text x="165" y="322">A</text></g>
<g id="p3-tone-AsBb" class="n"><ellipse cx="236" cy="316" rx="30" ry="20"/><text x="236" y="322">A#/Bb</text></g>
<g id="p3-tone-B" class="n"><ellipse cx="307" cy="316" rx="30" ry="20"/><text x="307" y="322">B</text></g>
<g id="p3-tone-C" class="n big"><ellipse cx="374" cy="316" rx="30" ry="20"/><text x="374" y="325">C</text></g>
<g id="p3-tone-CsDb" class="n"><ellipse cx="443" cy="316" rx="30" ry="20"/><text x="443" y="322">C#/Db</text></g>
<g id="p3-tone-D" class="n"><ellipse cx="510" cy="316" rx="30" ry="20"/><text x="510" y="322">D</text></g>
<g id="p3-tone-DsEb" class="n"><ellipse cx="577" cy="316" rx="30" ry="20"/><text x="577" y="322">D#/Eb</text></g>
<g id="p3-tone-E" class="n big"><ellipse cx="641" cy="316" rx="30" ry="20"/><text x="641" y="324">E</text></g>
<g id="p3-tone-F" class="n"><ellipse cx="710" cy="316" rx="30" ry="20"/><text x="710" y="322">F</text></g>
<g id="p3-tone-FsGb" class="n"><ellipse cx="773" cy="316" rx="30" ry="20"/><text x="773" y="322">F#/Gb</text></g>
<g id="p3-tone-G" class="n big"><ellipse cx="837" cy="316" rx="30" ry="20"/><text x="837" y="327">G</text></g>
<g id="p3-tone-GsAb" class="n"><ellipse cx="902" cy="316" rx="30" ry="20"/><text x="902" y="322">G#/Ab</text></g>
<g id="p3-min-dseb" class="n"><ellipse cx="165" cy="394" rx="29" ry="19.5"/><text x="165" y="400">d#/eb</text></g>
<g id="p3-min-asbb" class="n"><ellipse cx="236" cy="394" rx="29" ry="19.5"/><text x="236" y="400">a#/bb</text></g>
<g id="p3-min-f" class="n"><ellipse cx="307" cy="394" rx="29" ry="19.5"/><text x="307" y="400">f</text></g>
<g id="p3-min-c" class="n"><ellipse cx="374" cy="394" rx="29" ry="19.5"/><text x="374" y="399">c</text></g>
<g id="p3-min-g" class="n"><ellipse cx="443" cy="394" rx="29" ry="19.5"/><text x="443" y="400">g</text></g>
<g id="p3-min-d" class="n"><ellipse cx="510" cy="394" rx="29" ry="19.5"/><text x="510" y="399">d</text></g>
<g id="p3-min-a" class="n"><ellipse cx="577" cy="394" rx="29" ry="19.5"/><text x="577" y="402">a</text></g>
<g id="p3-min-e" class="n"><ellipse cx="641" cy="394" rx="29" ry="19.5"/><text x="641" y="399">e</text></g>
<g id="p3-min-b" class="n"><ellipse cx="710" cy="394" rx="29" ry="19.5"/><text x="710" y="402">b</text></g>
<g id="p3-min-fsgb" class="n"><ellipse cx="773" cy="394" rx="29" ry="19.5"/><text x="773" y="400">f#/gb</text></g>
<g id="p3-min-csdb" class="n"><ellipse cx="837" cy="394" rx="29" ry="19.5"/><text x="837" y="400">c#/db</text></g>
<g id="p3-min-gsab" class="n"><ellipse cx="902" cy="394" rx="29" ry="19.5"/><text x="902" y="400">g#/ab</text></g>
</g>
</svg>
